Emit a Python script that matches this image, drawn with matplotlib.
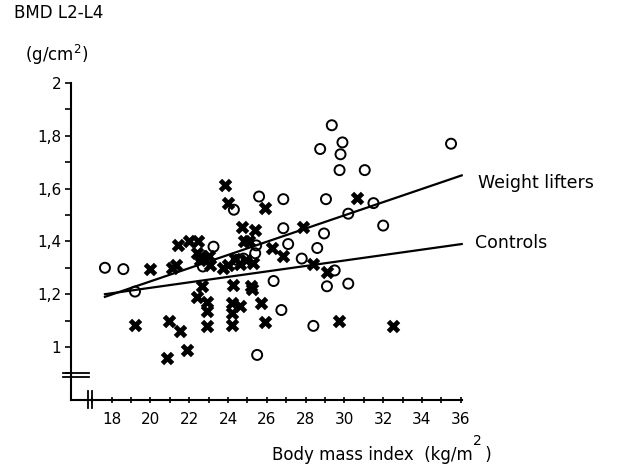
import matplotlib
matplotlib.use("Agg")
import matplotlib.pyplot as plt
import numpy as np

# ---- data ----
wl_bmi = [17.65, 18.6, 19.2, 22.7, 23.25, 24.3, 24.45, 24.8, 25.45, 25.6, 26.85, 26.85,
          27.1, 26.35, 26.75, 25.5, 29.35, 29.9, 28.75, 29.8, 29.75, 31.05, 35.5, 29.05,
          31.5, 30.2, 32.0, 28.95, 28.6, 27.8, 29.5, 29.1, 30.2, 28.4, 25.4]
wl_bmd = [1.30, 1.295, 1.21, 1.305, 1.38, 1.52, 1.33, 1.335, 1.385, 1.57, 1.56, 1.45,
          1.39, 1.25, 1.14, 0.97, 1.84, 1.775, 1.75, 1.73, 1.67, 1.67, 1.77, 1.56,
          1.545, 1.505, 1.46, 1.43, 1.375, 1.335, 1.29, 1.23, 1.24, 1.08, 1.355]

ct_bmi = [20.0, 21.1, 21.3, 21.4, 22.0, 22.45, 22.4, 22.6, 23.0, 22.55, 23.05, 23.75,
          23.85, 24.0, 25.9, 24.7, 25.4, 24.8, 25.1, 26.25, 26.85, 24.35, 24.9, 25.3,
          24.0, 24.6, 22.4, 22.65, 22.9, 22.9, 22.9, 24.25, 25.2, 24.2, 24.6, 24.2,
          24.2, 25.7, 25.9, 19.2, 20.95, 21.5, 21.9, 20.85, 30.65, 27.85, 28.4, 29.1,
          29.7, 32.5, 25.25]
ct_bmd = [1.295, 1.30, 1.31, 1.385, 1.40, 1.40, 1.355, 1.345, 1.345, 1.33, 1.31, 1.30,
          1.615, 1.545, 1.525, 1.455, 1.445, 1.40, 1.40, 1.375, 1.345, 1.335, 1.33, 1.32,
          1.31, 1.315, 1.19, 1.23, 1.17, 1.135, 1.08, 1.235, 1.23, 1.165, 1.155, 1.13,
          1.085, 1.165, 1.095, 1.085, 1.10, 1.06, 0.99, 0.96, 1.565, 1.455, 1.315, 1.285,
          1.10, 1.08, 1.22]

wl_fit_x = [17.65, 36.05]
wl_fit_y = [1.19, 1.65]
ct_fit_x = [17.65, 36.05]
ct_fit_y = [1.20, 1.39]

x_major = [18, 20, 22, 24, 26, 28, 30, 32, 34, 36]
x_labels = ["18", "20", "22", "24", "26", "28", "30", "32", "34", "36"]
y_major = [1.0, 1.2, 1.4, 1.6, 1.8, 2.0]
y_labels = ["1", "1,2", "1,4", "1,6", "1,8", "2"]

plt.rcParams['font.family'] = ['DejaVu Sans']

W, H = 621, 466
fig = plt.figure(figsize=(W / 100, H / 100), dpi=100)
ax = fig.add_axes([71 / W, (H - 399.8) / H, (461.7 - 71) / W, (399.8 - 83) / H])
ax.set_xlim(15.9, 36.05)
ax.set_ylim(0.8, 2.0)

ax.plot(wl_fit_x, wl_fit_y, color='black', lw=1.6, clip_on=False, zorder=2)
ax.plot(ct_fit_x, ct_fit_y, color='black', lw=1.6, clip_on=False, zorder=2)

ax.scatter(wl_bmi, wl_bmd, s=52, facecolors='none', edgecolors='black',
           linewidths=1.4, marker='o', zorder=3)
ax.scatter(ct_bmi, ct_bmd, s=95, color='black', marker='X', linewidths=0,
           zorder=4)

for side in ['top', 'right']:
    ax.spines[side].set_visible(False)
for side in ['left', 'bottom']:
    ax.spines[side].set_linewidth(1.5)

ax.set_xticks(x_major)
ax.set_xticklabels(x_labels, fontsize=11)
ax.set_xticks(np.arange(17, 36, 2), minor=True)
ax.set_yticks(y_major)
ax.set_yticklabels(y_labels, fontsize=11)
ax.set_yticks(np.arange(0.9, 2.0, 0.2), minor=True)
ax.tick_params(axis='x', which='both', direction='inout', length=5, width=1.2, pad=6)
ax.tick_params(axis='y', which='both', direction='out', length=4, width=1.2, pad=3)

# axis break marks
for yy in (0.9015, 0.8845):
    ax.plot([15.49, 16.83], [yy, yy], color='black', lw=1.3, clip_on=False, zorder=5)
for xx in (16.8, 17.0):
    ax.plot([xx, xx], [0.77, 0.835], color='black', lw=1.3, clip_on=False, zorder=5)

# line labels
ax.text(36.88, 1.621, "Weight lifters", fontsize=12.5, va='center', ha='left')
ax.text(36.73, 1.394, "Controls", fontsize=12.5, va='center', ha='left')

# y label (top-left)
fig.text(14 / W, 1 - 13 / H, "BMD L2-L4", fontsize=12, va='center', ha='left')
fig.text(25 / W, 1 - 55 / H, "(g/cm$^{2}$)", fontsize=12, va='center', ha='left')

# x label with raised superscript
fig.canvas.draw()
r = fig.canvas.get_renderer()
t1 = fig.text(0, 1 - 455 / H, "Body mass index  (kg/m", fontsize=12, va='center', ha='left')
t2 = fig.text(0, 1 - 441 / H, "2", fontsize=10, va='center', ha='left')
t3 = fig.text(0, 1 - 455 / H, " )", fontsize=12, va='center', ha='left')
w1 = t1.get_window_extent(r).width
w2 = t2.get_window_extent(r).width
w3 = t3.get_window_extent(r).width
total = w1 + w2 + w3
x0 = 383 - total / 2
t1.set_x(x0 / W)
t2.set_x((x0 + w1) / W)
t3.set_x((x0 + w1 + w2 - 2) / W)

fig.savefig("out.png", dpi=100)
